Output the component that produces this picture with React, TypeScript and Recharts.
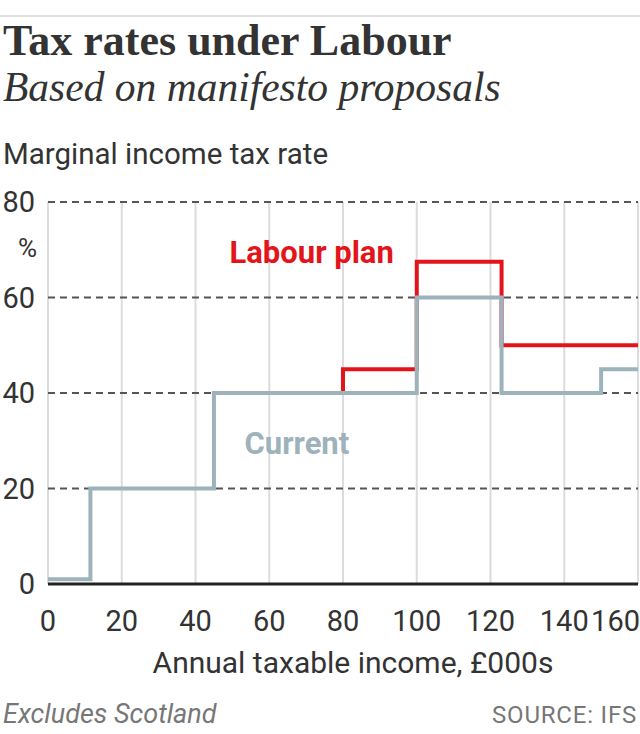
import { LineChart, Line, XAxis, YAxis, CartesianGrid, ReferenceDot } from "recharts";

// Income thresholds in £000s, with the marginal rate that applies from each one onwards.
const incomeBands = [0, 11.5, 45, 80, 100, 123, 150, 160];
const currentRates = [1, 20, 40, 40, 60, 40, 45, 45];
const labourRates = [null, null, 40, 45, 67.5, 50, 50, 50];

const xTicks = [0, 20, 40, 60, 80, 100, 120, 140, 160];
const yTicks = [0, 20, 40, 60, 80];

const data = incomeBands.map((income, i) => ({
  income,
  current: currentRates[i],
  labour: labourRates[i],
}));

const SANS = "Roboto, 'Noto Sans', sans-serif";
const SERIF = "'Liberation Serif', 'DejaVu Serif', serif";
const RED = "#e2151b";
const GREY = "#9db2ba";
const INK = "#333";

function XTick({ x, y, payload }: any) {
  // the last label is pushed in so it stays inside the frame
  const last = payload.value === 160;
  return (
    <text x={last ? x + 2 : x} y={y + 39} textAnchor={last ? "end" : "middle"} fill={INK} fontSize={29} fontFamily={SANS}>
      {payload.value}
    </text>
  );
}

export default function App() {
  return (
    <div style={{ position: "absolute", left: 0, top: 0, width: 640, height: 734, background: "#fff" }}>
      <div style={{ position: "absolute", left: 0, top: 15, width: 640, height: 2, background: "#e0e0e0" }} />
      <div style={{ position: "absolute", left: 3, top: 15, fontFamily: SERIF, fontWeight: 700, fontSize: 44, color: INK, whiteSpace: "nowrap" }}>
        Tax rates under Labour
      </div>
      <div style={{ position: "absolute", left: 3, top: 63, fontFamily: SERIF, fontStyle: "italic", fontSize: 41.5, color: INK, whiteSpace: "nowrap" }}>
        Based on manifesto proposals
      </div>
      <div style={{ position: "absolute", left: 3, top: 137, fontFamily: SANS, fontSize: 29.5, color: INK, whiteSpace: "nowrap" }}>
        Marginal income tax rate
      </div>
      <div style={{ position: "absolute", left: 18, top: 233, fontFamily: SANS, fontSize: 26, color: INK }}>%</div>

      <div style={{ position: "absolute", left: 0, top: 0 }}>
        <LineChart width={640} height={640} data={data} margin={{ top: 202, right: 2, left: 0, bottom: 18 }}>
          <CartesianGrid horizontal={false} stroke="#dcdcdc" strokeWidth={2} />
          <CartesianGrid vertical={false} stroke="#555" strokeWidth={2} strokeDasharray="7 5" horizontalValues={[20, 40, 60, 80]} />
          <XAxis
            dataKey="income"
            type="number"
            domain={[0, 160]}
            ticks={xTicks}
            interval={0}
            tick={<XTick />}
            tickLine={false}
            axisLine={{ stroke: "#222", strokeWidth: 3 }}
            height={38}
          />
          <YAxis
            domain={[0, 80]}
            ticks={yTicks}
            width={48}
            axisLine={false}
            tickLine={false}
            tickMargin={7}
            tick={{ fill: INK, fontSize: 29, fontFamily: SANS }}
          />
          <Line type="stepAfter" dataKey="labour" stroke={RED} strokeWidth={4} dot={false} isAnimationActive={false} connectNulls={false} />
          <Line type="stepAfter" dataKey="current" stroke={GREY} strokeWidth={4} dot={false} isAnimationActive={false} />
          <ReferenceDot
            x={71.5}
            y={69.5}
            r={0}
            label={{ value: "Labour plan", position: "center", fill: RED, fontSize: 31, fontWeight: 700, fontFamily: SANS }}
          />
          <ReferenceDot
            x={67.5}
            y={29.5}
            r={0}
            label={{ value: "Current", position: "center", fill: GREY, fontSize: 31, fontWeight: 700, fontFamily: SANS }}
          />
        </LineChart>
      </div>

      <div style={{ position: "absolute", left: 0, width: 706, top: 645, textAlign: "center", fontFamily: SANS, fontSize: 30, color: INK }}>
        Annual taxable income, £000s
      </div>
      <div style={{ position: "absolute", left: 3, top: 698, fontFamily: SANS, fontStyle: "italic", fontSize: 27, color: "#777" }}>
        Excludes Scotland
      </div>
      <div style={{ position: "absolute", right: 3, top: 701, fontFamily: SANS, fontSize: 24, color: "#777", letterSpacing: 0.8 }}>
        SOURCE: IFS
      </div>
    </div>
  );
}
